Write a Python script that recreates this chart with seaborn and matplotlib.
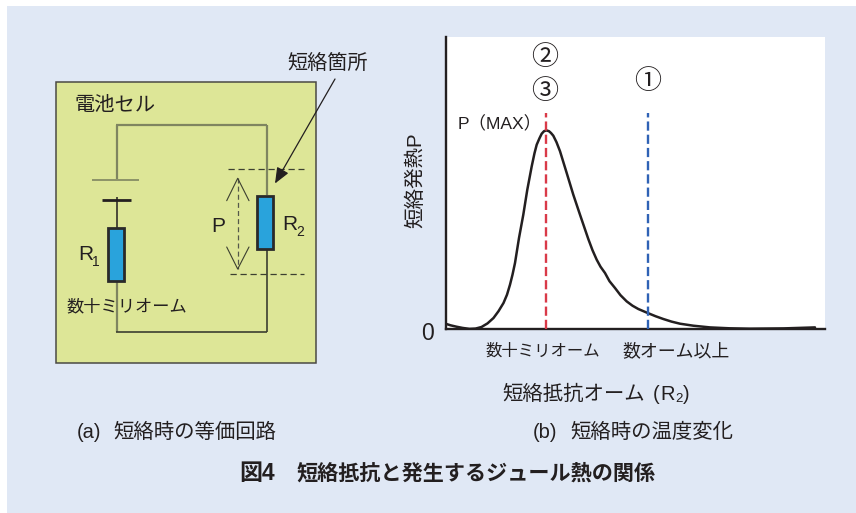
import matplotlib
matplotlib.use("Agg")
import matplotlib.pyplot as plt
import pandas as pd
import seaborn as sns

sns.set_theme(style="white")
plt.rcParams['font.family'] = ['Liberation Sans', 'Noto Sans CJK JP', 'DejaVu Sans']

W, H = 856, 513
BG = "#e0e8f5"
CELL = "#dde697"
BLUE = "#29a3dc"
TXT = "#231f20"
WIRE = "#7f8560"
DARK = "#3c3f30"

# curve: resistance (arbitrary scale) and heat P
r2 = [1, 6, 12, 18, 25, 31, 37, 43, 49, 54, 59, 62.5, 65.5, 68, 70.5, 74.5, 78.8, 82.8, 87.2, 90,
      92.2, 95, 97.2, 99.5, 102, 104.5, 106.5, 108.8, 112, 115.5, 122.2, 128.8, 135.5, 143.8,
      148, 152.2, 156, 160.5, 165, 170.5, 176, 182.2, 188, 193.8, 203.2, 211, 218.8, 227, 235.5,
      248.8, 265.5, 285, 305, 339, 370.5]
heat = [5.5, 3.9, 2.5, 1.3, 0.3, 0.6, 2.2, 5.8, 11.2, 18, 26.2, 34.5, 44.5, 54.5, 66.2, 91.2,
        114.5, 139.5, 162.8, 176, 184.5, 191, 195.5, 198, 198.8, 198, 196.2, 193.5, 187, 178,
        156.2, 134.5, 114.5, 90.2, 79, 69.5, 62.5, 56.2, 48, 41.2, 34, 27.8, 23.5, 20.2, 16.2,
        13, 10.2, 7.6, 5.5, 3.5, 1.8, 0.9, 0.5, 0.8, 1.8]
marker_r2 = [101, 203.2]
marker_color = ["#d93a48", "#2f62b5"]
marker_top = 216
tick_r2 = [98.5, 232]
tick_text = ["数十ミリオーム", "数オーム以上"]
tick_size = [11.8, 12.9]

fig = plt.figure(figsize=(W / 100, H / 100), dpi=100, facecolor="white")

# full figure overlay in pixel coordinates, for the panel and the circuit
bg = fig.add_axes([0, 0, 1, 1])
bg.set_xlim(0, W)
bg.set_ylim(H, 0)
bg.axis("off")
bg.add_patch(plt.Rectangle((7, 6), W - 7, H - 6, fc=BG, ec="none"))
bg.add_patch(plt.Rectangle((56.5, 81.5), 260, 281, fc=CELL, ec="#4a4a44", lw=1.1))


def wire(xs, ys, c=WIRE, lw=1.6):
    bg.plot(xs, ys, color=c, lw=lw, solid_capstyle="butt")


def resistor(x, y, w, h):
    bg.add_patch(plt.Rectangle((x, y), w, h, fc=BLUE, ec="#2a2a2a", lw=2.0, zorder=3))


# circuit wires
wire([117, 117], [179, 124.5])
wire([116.5, 267.5], [125, 125])
wire([267, 267], [124.5, 195])
wire([92, 139], [179.5, 179.5], lw=1.2)
wire([102, 131], [200, 200], c=TXT, lw=2)
wire([117, 117], [197, 228], c=TXT, lw=1.1)
wire([117, 117], [280, 332])
wire([116.5, 267.5], [332, 332], c=DARK, lw=1.2)
wire([267, 267], [248, 332], c=DARK, lw=1.2)
resistor(108.5, 228, 16, 53)
resistor(257.5, 195.5, 16, 53)

# dashed extents of P
bg.plot([228, 304], [168.5, 168.5], color=DARK, lw=0.9, ls=(0, (5, 3)))
bg.plot([230, 304], [274, 274], color=DARK, lw=0.9, ls=(0, (5, 3)))
bg.plot([237.7, 237.7], [178, 269], color="#55584a", lw=0.9, ls=(0, (4, 2.5)))
bg.plot([226.7, 237.7, 249], [200.7, 178.3, 200.7], color=DARK, lw=0.8)
bg.plot([226.7, 237.7, 249], [247, 269, 247], color=DARK, lw=0.8)

# arrow to the short point
bg.annotate("", xy=(275, 183.5), xytext=(335, 79),
            arrowprops=dict(arrowstyle="-|>,head_length=0.8,head_width=0.33", color=TXT, lw=0.9,
                            shrinkA=0, shrinkB=0))

kw = dict(color=TXT, ha="left", va="center")
bg.text(75, 105.5, "電池セル", fontsize=14.6, **kw)
bg.text(287, 63, "短絡箇所", fontsize=14.5, **kw)
bg.text(66, 307, "数十ミリオーム", fontsize=12.4, **kw)
bg.text(78, 255, "R", fontsize=15, **kw)
bg.text(92, 262, "1", fontsize=10, **kw)
bg.text(282, 224.5, "R", fontsize=15, **kw)
bg.text(296, 232, "2", fontsize=10, **kw)
bg.text(211, 226, "P", fontsize=15, **kw)
bg.text(415.5, 180, "短絡発熱P", rotation=90, fontsize=14.8, color=TXT, ha="center", va="center")
bg.text(502, 394, "短絡抵抗オーム", fontsize=14.7, **kw)
bg.text(653, 394, "(", fontsize=14.5, **kw)
bg.text(660, 394, "R", fontsize=14.5, **kw)
bg.text(675, 399, "2", fontsize=9.5, **kw)
bg.text(683, 394, ")", fontsize=14.5, **kw)
bg.text(77, 432, "(a)", fontsize=14.5, **kw)
bg.text(113.5, 432, "短絡時の等価回路", fontsize=14.7, **kw)
bg.text(533, 432, "(b)", fontsize=14.5, **kw)
bg.text(570, 432, "短絡時の温度変化", fontsize=14.7, **kw)
bg.text(239, 473, "図4", fontsize=16.5, fontweight="bold", **kw)
bg.text(297, 473, "短絡抵抗と発生するジュール熱の関係", fontsize=15.2, fontweight="bold", **kw)

# the P-R2 plot itself
ax = fig.add_axes([445.5 / W, 1 - 329.2 / H, 379 / W, 292.2 / H], facecolor="white")
df = pd.DataFrame({"r2": r2, "heat": heat})
sns.lineplot(data=df, x="r2", y="heat", color=TXT, lw=1.8, ax=ax, errorbar=None)
for xv, c in zip(marker_r2, marker_color):
    ax.plot([xv, xv], [0, marker_top], color=c, lw=1.7, ls=(0, (3.9, 1.7)), zorder=3)
ax.set_xlim(1, 380)
ax.set_ylim(0, 292.2)
ax.set_xlabel("")
ax.set_ylabel("")
ax.set_xticks(tick_r2)
ax.set_xticklabels(tick_text, color=TXT)
for lab, s in zip(ax.get_xticklabels(), tick_size):
    lab.set_fontsize(s)
ax.tick_params(axis="x", length=0, pad=10)
ax.set_yticks([])
ax.spines["top"].set_visible(False)
ax.spines["right"].set_visible(False)
for s in ["left", "bottom"]:
    ax.spines[s].set_color(TXT)
    ax.spines[s].set_linewidth(1.7)

# labels sitting over the white plot
top = fig.add_axes([0, 0, 1, 1], facecolor="none")
top.set_xlim(0, W)
top.set_ylim(H, 0)
top.axis("off")
top.text(428, 334, "0", fontsize=16.5, color=TXT, ha="center", va="center")
top.text(545, 58, "②", fontsize=19.5, color=TXT, ha="center", va="center")
top.text(545, 92, "③", fontsize=19.5, color=TXT, ha="center", va="center")
top.text(647.5, 82, "①", fontsize=19.5, color=TXT, ha="center", va="center")
top.text(458, 124, "P（MAX）", fontsize=12.6, color=TXT, ha="left", va="center")

fig.savefig("out.png", dpi=100, facecolor="white")
